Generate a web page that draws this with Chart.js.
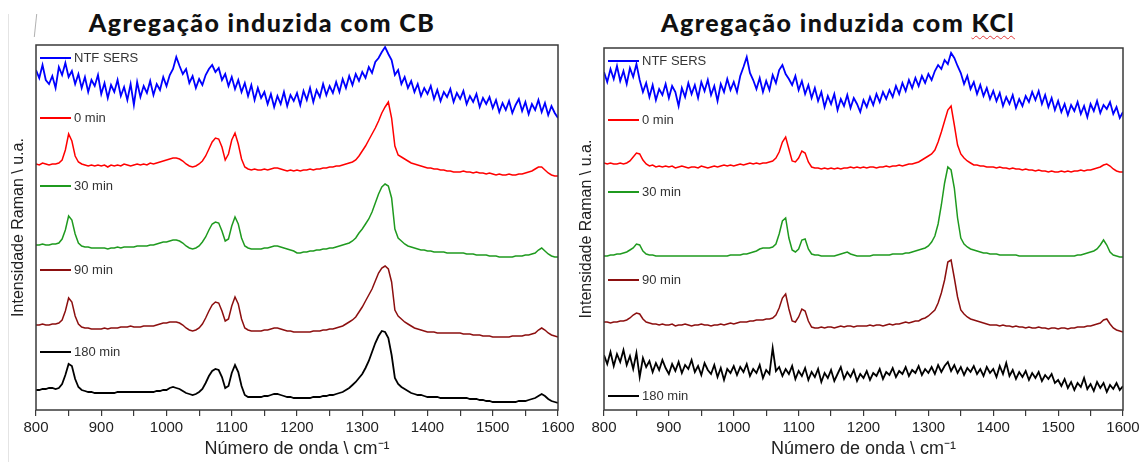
<!DOCTYPE html>
<html>
<head>
<meta charset="utf-8">
<script src="https://cdn.jsdelivr.net/npm/chart.js@4.4.0/dist/chart.umd.min.js"></script>
<style>
  body { margin: 0; background: #fff; width: 1143px; height: 462px; overflow: hidden; position: relative; }
  .title { position: absolute; top: 6px; font-family: 'Lato', sans-serif; font-weight: 900; font-size: 25px;
           letter-spacing: 1.4px; line-height: 32px; white-space: nowrap; transform: translateX(-50%); color: #111; }
  .spell { text-decoration: underline wavy #e23a3a; text-decoration-thickness: 1px; text-underline-offset: 3px; }
  #boxCB { position: absolute; left: 0; top: 0; }
  #boxKCl { position: absolute; left: 568px; top: 0; }
  .edge { position: absolute; left: 8px; top: 14px; width: 1px; height: 448px; background: #e4e4e4; }
  .slash { position: absolute; left: 35px; top: 14px; width: 1px; height: 23px; background: #b0b0b0; transform: rotate(6deg); }
</style>
</head>
<body>
<div class="edge"></div>
<div class="slash"></div>
<div class="title" style="left:262px">Agregação induzida com CB</div>
<div class="title" style="left:838px">Agregação induzida com <span class="spell">KCl</span></div>
<canvas id="boxCB" width="590" height="462"></canvas>
<canvas id="boxKCl" width="575" height="462"></canvas>
<script>
// Raman shift grid, 800-1600 cm-1 every 5 cm-1
const wavenumbers = []
for (let w = 800; w <= 1600; w += 5) wavenumbers.push(w)

const seriesLabels = ['NTF SERS', '0 min', '30 min', '90 min', '180 min']
const seriesColors = ['#0000ff', '#ff0000', '#1f9a1f', '#8c0f0f', '#000000']

// aggregation with CB (offset spectra, a.u.)
const cbNtf = [
  340,332,345,330,326,334,322,343,335,347,333,339,326,336,322,333,318,330,324,335,
  316,327,312,325,318,330,314,323,310,326,305,328,313,324,317,329,315,326,320,333,
  324,335,341,353,344,336,341,327,334,322,331,325,335,341,345,338,342,330,336,324,
  333,321,330,318,327,314,325,310,322,312,318,306,316,303,314,306,318,304,315,309,
  317,305,319,310,322,308,320,313,326,315,324,317,328,318,331,322,334,325,336,329,
  338,332,343,337,348,352,358,363,356,350,335,340,326,333,322,329,318,326,314,322,
  316,324,311,320,309,318,313,321,308,317,311,319,306,314,308,316,303,312,306,313,
  302,310,298,307,300,309,297,305,311,299,308,296,306,300,310,298,307,295,304,297,
  292]
const cb0 = [
  246,245,247,246,245,246,246,247,250,260,276,269,254,248,246,245,244,245,244,245,
  244,245,243,245,244,245,244,246,245,244,245,246,245,246,245,247,246,247,248,249,
  250,251,252,252,251,249,246,244,243,244,246,249,254,261,268,272,271,263,250,256,
  270,277,266,251,243,241,240,241,240,240,241,240,241,242,242,241,240,239,240,239,
  240,239,240,240,241,240,241,241,242,242,243,243,244,244,245,246,247,248,250,254,
  259,264,270,276,282,289,297,303,308,292,264,255,253,251,249,247,246,245,244,243,
  242,242,241,241,240,240,239,239,238,238,238,239,238,238,237,238,237,237,236,237,
  236,235,236,235,235,236,235,235,236,236,237,238,239,241,243,243,240,237,235,234,
  234]
const cb30 = [
  165,165,166,165,165,166,166,167,171,180,194,190,176,167,164,163,163,162,162,162,
  162,162,161,162,162,163,162,163,163,163,163,164,164,164,164,165,165,166,167,168,
  168,169,170,170,169,167,164,162,161,162,164,168,173,180,186,188,187,179,169,171,
  184,193,186,172,164,162,161,161,161,161,162,162,163,164,164,163,162,161,160,159,
  157,157,158,158,159,159,160,160,161,161,162,162,163,164,165,166,167,169,172,177,
  181,186,191,198,207,216,223,226,224,212,181,172,169,166,164,163,162,161,160,160,
  159,159,158,158,158,158,157,157,157,157,157,157,156,156,156,155,155,155,155,154,
  154,154,153,153,153,153,153,154,154,154,155,155,156,157,160,162,159,156,154,153,
  153]
const cb90 = [
  85,85,86,85,85,86,86,87,90,99,112,108,94,86,83,82,82,81,81,81,
  81,82,81,82,82,82,83,83,83,84,83,83,83,84,84,84,84,85,86,87,
  87,88,88,88,87,85,82,80,79,80,82,86,92,99,105,108,107,99,89,91,
  104,113,106,91,82,80,79,79,79,79,80,80,81,82,82,81,80,79,79,78,
  78,78,78,78,78,79,79,79,80,80,81,81,82,83,84,86,88,90,93,98,
  103,109,115,121,129,137,142,144,141,128,100,94,91,88,86,84,82,81,80,79,
  78,78,78,77,77,77,77,77,77,77,77,76,76,76,75,75,75,74,74,74,
  73,73,73,73,73,73,74,74,74,74,75,75,76,77,80,82,80,77,75,74,
  73]
const cb180 = [
  20,20,21,21,22,22,21,22,26,35,46,44,31,23,20,19,18,18,17,17,
  17,17,17,17,17,18,18,18,18,18,18,18,18,18,18,18,18,19,19,20,
  20,22,23,22,21,19,17,16,15,16,18,21,27,34,39,41,40,33,22,24,
  37,45,38,24,15,13,13,13,13,13,14,14,15,16,16,15,14,13,13,12,
  12,12,12,12,12,13,13,13,14,14,15,15,16,17,18,20,22,25,28,32,
  36,42,49,58,67,74,79,78,72,55,32,26,23,21,19,17,16,15,15,14,
  13,13,13,13,12,12,12,12,12,12,12,12,12,11,11,11,10,10,9,9,
  8,8,8,8,8,8,8,8,9,9,9,10,11,12,14,16,14,11,9,8,
  7]

// aggregation with KCl
const kclNtf = [
  338,328,341,331,344,329,339,326,342,333,346,330,318,327,313,325,310,321,315,326,
  312,324,318,304,322,313,327,316,325,312,328,319,330,315,324,309,326,318,331,320,
  328,318,334,343,353,337,330,321,332,318,329,320,335,327,340,345,336,331,325,334,
  320,329,316,325,312,322,309,318,303,314,306,316,300,311,304,315,302,312,306,298,
  310,303,313,305,316,308,318,311,320,313,324,316,327,319,330,322,332,324,334,327,
  336,330,339,345,341,350,346,357,352,344,337,326,334,321,328,316,325,314,322,311,
  319,309,317,304,313,306,315,302,311,304,314,308,318,310,319,306,315,303,312,300,
  309,298,306,295,305,299,308,296,304,293,306,299,309,297,305,301,308,296,303,292,
  298]
const kcl0 = [
  247,246,247,246,246,247,246,247,249,253,257,256,250,246,244,245,243,244,243,244,
  243,244,242,243,244,243,242,243,243,242,244,243,242,243,244,243,244,245,244,245,
  244,245,246,245,246,247,246,247,246,247,247,248,249,252,258,268,273,261,249,248,
  252,259,257,248,243,242,242,241,242,241,242,241,242,241,242,242,243,242,243,242,
  243,242,243,243,242,243,243,244,243,244,244,245,244,245,246,246,247,248,250,252,
  254,256,260,268,278,289,300,304,285,265,256,252,249,247,245,245,244,244,243,243,
  243,242,243,242,242,241,242,241,241,240,241,240,240,239,240,239,239,238,239,238,
  238,239,238,239,238,239,239,240,239,240,240,241,242,243,245,246,244,241,239,238,
  238]
const kcl30 = [
  154,154,155,155,156,156,157,158,160,162,166,165,159,156,155,155,154,154,154,154,
  154,154,154,154,154,154,154,154,154,154,154,154,154,154,154,154,154,154,154,155,
  155,155,155,156,156,157,158,159,161,162,162,162,163,166,176,189,192,172,160,158,
  161,170,171,161,156,155,155,154,154,154,154,154,155,156,157,158,156,155,154,154,
  154,154,154,155,155,155,155,155,155,156,156,156,156,157,157,158,159,160,161,162,
  164,168,174,186,205,227,243,240,222,192,172,166,163,161,160,159,158,157,157,156,
  156,156,155,155,155,155,155,155,154,154,154,154,154,154,154,154,154,154,154,154,
  154,154,154,154,154,154,155,155,156,157,158,159,161,165,170,165,158,155,154,153,
  153]
const kcl90 = [
  88,88,87,88,88,89,89,90,92,95,97,96,91,88,87,86,86,85,86,85,
  85,86,84,85,85,86,85,84,85,85,86,85,85,84,85,85,86,85,86,87,
  86,87,88,88,88,89,89,90,90,90,91,91,92,95,102,112,116,101,89,88,
  93,101,99,89,83,82,82,83,82,83,83,82,83,84,83,84,84,83,84,84,
  84,84,85,84,85,85,84,85,86,85,86,86,87,88,87,88,89,89,91,92,
  94,97,100,107,117,130,148,150,132,113,100,96,93,91,90,89,88,87,86,85,
  85,85,84,85,84,84,83,84,83,83,82,83,82,82,83,82,82,81,82,82,
  81,82,82,81,82,82,83,83,83,84,84,85,86,87,90,91,86,82,80,79,
  78]
const kcl180 = [
  55,46,58,44,56,48,60,45,54,41,57,33,52,43,49,38,47,40,50,42,
  36,46,39,48,37,45,41,50,38,44,35,47,40,36,45,33,42,30,41,37,
  44,35,43,38,46,34,41,37,45,32,40,36,62,39,43,34,41,36,44,31,
  39,34,42,30,38,33,41,28,37,32,40,29,36,43,31,38,33,40,29,36,
  32,39,30,37,34,41,31,38,35,42,33,39,36,43,34,40,37,44,35,41,
  37,43,36,45,38,44,48,39,45,37,43,35,42,38,44,36,41,34,43,37,
  41,33,44,36,47,34,40,31,38,33,39,30,37,32,38,29,35,31,36,27,
  30,24,31,22,28,20,27,23,32,21,26,19,28,22,27,18,25,21,27,20,
  24]

Chart.defaults.font.family = "'Liberation Sans', Arial, sans-serif"
Chart.defaults.color = '#222'

// frame around the plot and the in-plot keys above each trace
const frameAndKeys = {
  id: 'frameAndKeys',
  afterDatasetsDraw(chart, args, opts) {
    const ctx = chart.ctx
    const a = chart.chartArea
    const y = chart.scales.y
    ctx.save()
    ctx.strokeStyle = '#3a3a3a'
    ctx.lineWidth = 1.5
    ctx.strokeRect(a.left, a.top, a.right - a.left, a.bottom - a.top)
    ctx.font = "13px 'Liberation Sans', Arial, sans-serif"
    ctx.textBaseline = 'middle'
    chart.data.datasets.forEach((ds, i) => {
      const yy = y.getPixelForValue(opts.levels[i])
      ctx.strokeStyle = ds.borderColor
      ctx.lineWidth = 2
      ctx.beginPath()
      ctx.moveTo(a.left + 4, yy)
      ctx.lineTo(a.left + 35, yy)
      ctx.stroke()
      ctx.fillStyle = '#333'
      ctx.fillText(ds.label, a.left + 38, yy)
    })
    ctx.restore()
  }
}

function buildPanel(id, spectra, keyLevels, yMax, pad) {
  const datasets = spectra.map((values, i) => ({
    label: seriesLabels[i],
    data: wavenumbers.map((w, j) => ({ x: w, y: values[j] })),
    borderColor: seriesColors[i],
    borderWidth: i === 0 || i === 4 ? 1.8 : 1.5,
    pointRadius: 0,
    tension: 0,
    fill: false
  }))

  return new Chart(document.getElementById(id).getContext('2d'), {
    type: 'line',
    data: { datasets },
    plugins: [frameAndKeys],
    options: {
      responsive: false,
      animation: false,
      layout: { padding: pad },
      plugins: {
        legend: { display: false },
        tooltip: { enabled: false },
        frameAndKeys: { levels: keyLevels }
      },
      scales: {
        x: {
          type: 'linear',
          min: 800,
          max: 1600,
          ticks: {
            stepSize: 50,
            autoSkip: false,
            maxRotation: 0,
            padding: 3,
            color: '#222',
            font: { size: 15 },
            callback: v => (v % 100 === 0 ? String(v) : '')
          },
          grid: { drawOnChartArea: false, tickLength: 6, color: '#3a3a3a', lineWidth: 1.2 },
          border: { display: false },
          title: {
            display: true,
            text: 'Número de onda \\ cm⁻¹',
            color: '#222',
            font: { size: 18 },
            padding: { top: 0, bottom: 2 }
          },
          afterFit: s => { s.height = 52 }
        },
        y: {
          min: 0,
          max: yMax,
          ticks: { display: false },
          grid: { display: false },
          border: { display: false },
          title: {
            display: true,
            text: 'Intensidade Raman \\ u.a.',
            color: '#222',
            font: { size: 16 },
            padding: { top: 9, bottom: 0 }
          },
          afterFit: s => { s.width = 36 }
        }
      }
    }
  })
}

buildPanel('boxCB', [cbNtf, cb0, cb30, cb90, cb180], [352, 292, 224, 140, 58], 365,
  { top: 45, right: 32, left: 0, bottom: 0 })
buildPanel('boxKCl', [kclNtf, kcl0, kcl30, kcl90, kcl180], [349, 290, 218, 130, 14], 362,
  { top: 48, right: 20, left: 0, bottom: 0 })
</script>
</body>
</html>
